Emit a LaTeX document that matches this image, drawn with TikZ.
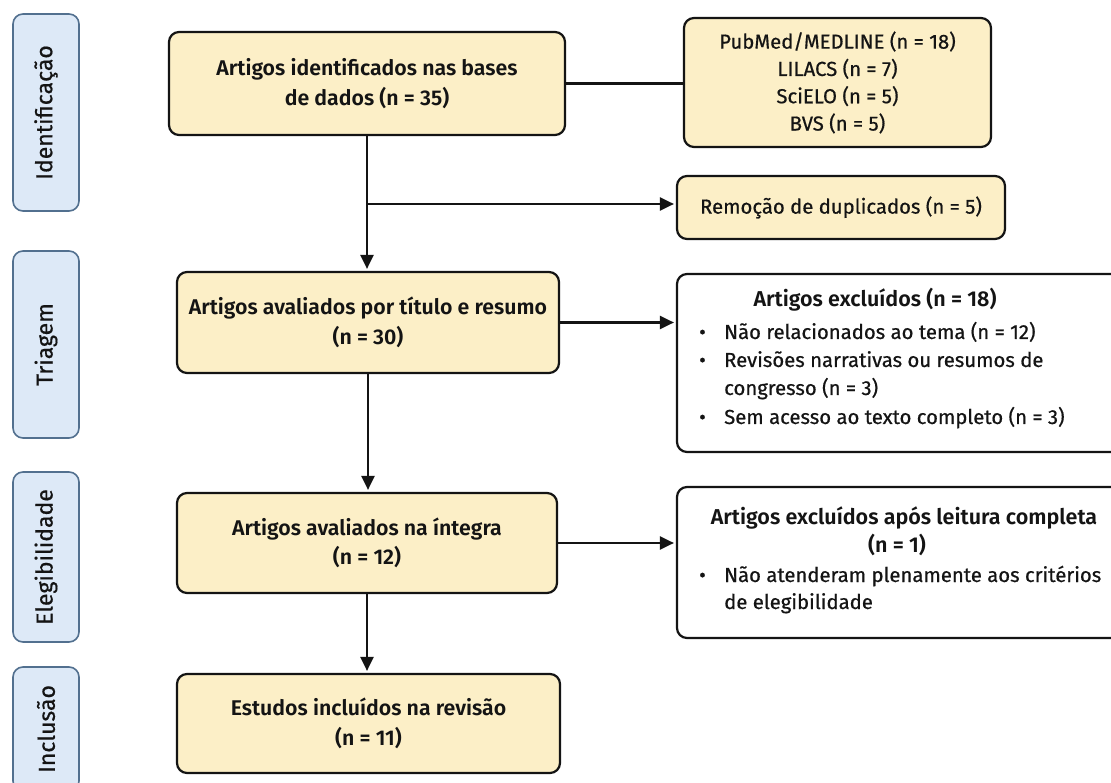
\documentclass[tikz,border=0pt]{standalone}
\usepackage{fontspec}
\setmainfont{Fira Sans}[BoldFont={Fira Sans SemiBold}]
\usetikzlibrary{arrows.meta,calc}
\definecolor{bandfill}{HTML}{DDE9F7}
\definecolor{bandline}{HTML}{52708F}
\definecolor{boxfill}{HTML}{FCEFC7}
\definecolor{ink}{HTML}{141414}
\newcommand{\thick}{\addfontfeature{FakeBold=0.6}}
\begin{document}
\begin{tikzpicture}[x=1pt,y=-1pt,
  band/.style={draw=bandline, fill=bandfill, line width=1.6pt, rounded corners=10pt,
    rotate=90, minimum height=66pt, inner sep=0pt, text=ink,
    font=\fontsize{23}{27}\selectfont\thick},
  mainbox/.style={draw=ink, fill=boxfill, line width=2.2pt, rounded corners=10pt,
    align=center, inner sep=0pt, text=ink, font=\fontsize{21.3}{29.5}\selectfont\bfseries},
  sidebox/.style={draw=ink, fill=boxfill, line width=2.2pt, rounded corners=10pt,
    align=center, inner sep=0pt, text=ink, font=\fontsize{20.3}{27.3}\selectfont\thick},
  exbox/.style={draw=ink, fill=white, line width=2.2pt, rounded corners=10pt, inner sep=0pt},
  extitle/.style={anchor=base, inner sep=0pt, text=ink, font=\fontsize{21.5}{28}\selectfont\bfseries},
  exline/.style={anchor=base west, inner sep=0pt, text=ink, font=\fontsize{20.3}{28}\selectfont\thick},
  conn/.style={draw=ink, line width=2.2pt},
  arr/.style={conn, -{Triangle[length=14pt,width=13pt]}, shorten >=2pt}
]
\useasboundingbox (0,0) rectangle (1111,783);
\clip (0,0) rectangle (1111,783);
\fill[white] (0,0) rectangle (1111,783);

% phase bands
\node[band, minimum width=197pt] (b1) at (46,112.5) {Identificação};
\node[band, minimum width=187pt] (b2) at (46,344.5) {Triagem};
\node[band, minimum width=170pt] (b3) at (46,557) {Elegibilidade};
\node[band, minimum width=124pt] (b4) at (46,729) {Inclusão};

% main column
\node[mainbox, minimum width=396pt, minimum height=103pt] (box1) at (367,83.5)
  {Artigos identificados nas bases\\de dados (n = 35)};
\node[mainbox, minimum width=382pt, minimum height=101pt] (box2) at (368,322.5)
  {Artigos avaliados por título e resumo\\(n = 30)};
\node[mainbox, minimum width=380pt, minimum height=100pt] (box3) at (367,543)
  {Artigos avaliados na íntegra\\(n = 12)};
\node[mainbox, minimum width=383pt, minimum height=99pt] (box4) at (368.5,723.5)
  {Estudos incluídos na revisão\\(n = 11)};

% side boxes
\node[sidebox, minimum width=307pt, minimum height=129pt] (pub) at (837.5,82.5)
  {PubMed/MEDLINE (n = 18)\\LILACS (n = 7)\\SciELO (n = 5)\\BVS (n = 5)};
\node[sidebox, minimum width=328pt, minimum height=63pt] (rem) at (841,207.5)
  {Remoção de duplicados (n = 5)};

\node[exbox, minimum width=453pt, minimum height=178pt] (ex1) at (903.5,363) {};
\node[extitle] (ex1t) at (875,307) {Artigos excluídos (n = 18)};
\node[exline] (ex1a) at (699,339) {\makebox[25pt][l]{\textbullet}Não relacionados ao tema (n = 12)};
\node[exline] (ex1b) at (699,367) {\makebox[25pt][l]{\textbullet}Revisões narrativas ou resumos de};
\node[exline] (ex1c) at (724,395) {congresso (n = 3)};
\node[exline] (ex1d) at (699,424) {\makebox[25pt][l]{\textbullet}Sem acesso ao texto completo (n = 3)};

\node[exbox, minimum width=453pt, minimum height=151pt] (ex2) at (903.5,562.5) {};
\node[extitle] (ex2t) at (904,524) {Artigos excluídos após leitura completa};
\node[extitle] (ex2n) at (897,552) {(n = 1)};
\node[exline] (ex2a) at (699,582) {\makebox[25pt][l]{\textbullet}Não atenderam plenamente aos critérios};
\node[exline] (ex2b) at (724,609) {de elegibilidade};

% connectors
\draw[conn] (box1.east) -- (box1.east -| pub.west);
\draw[arr] (box1.south) -- (box1.south |- box2.north);
\coordinate (br) at (367,204);
\draw[arr] (br) -- (br -| rem.west);
\draw[arr] (box2.east) -- (box2.east -| ex1.west);
\draw[arr] (box2.south) -- (box2.south |- box3.north);
\draw[arr] (box3.east) -- (box3.east -| ex2.west);
\draw[arr] (box3.south) -- (box3.south |- box4.north);
\end{tikzpicture}
\end{document}
